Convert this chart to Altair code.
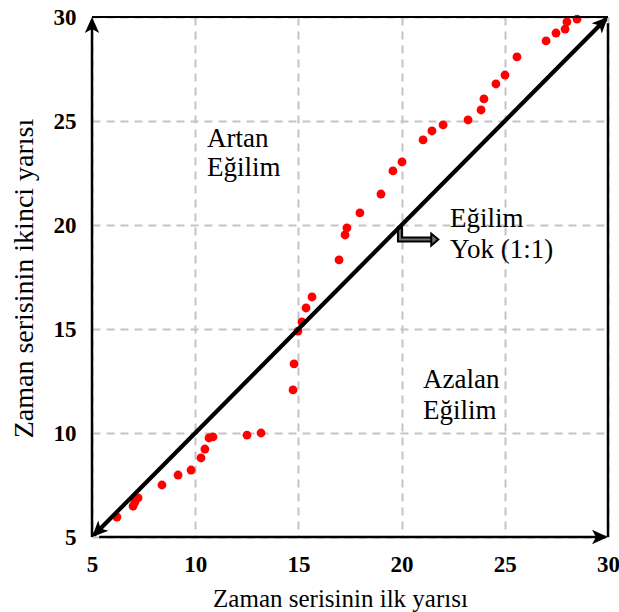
import altair as alt
import pandas as pd

# ---- data ----
x_first = [6.21, 6.99, 7.08, 7.23, 8.39, 9.17, 9.80, 10.28, 10.47, 10.67, 10.86, 12.51, 13.19,
           14.74, 14.79, 14.98, 15.17, 15.37, 15.66, 16.97, 17.26, 17.35, 17.98, 19.00, 19.58,
           20.02, 21.04, 21.47, 22.01, 23.22, 23.85, 23.99, 24.57, 25.01, 25.59, 27.00, 27.48,
           27.92, 28.01, 28.50]
y_second = [5.96, 6.49, 6.68, 6.88, 7.50, 7.98, 8.22, 8.80, 9.23, 9.76, 9.81, 9.90, 10.00,
            12.07, 13.32, 14.90, 15.34, 16.01, 16.54, 18.32, 19.52, 19.86, 20.58, 21.49, 22.60,
            23.03, 24.09, 24.52, 24.81, 25.05, 25.53, 26.06, 26.78, 27.21, 28.08, 28.85, 29.23,
            29.42, 29.76, 29.90]
tick_values = [5, 10, 15, 20, 25, 30]
ann_text = ["Artan", "Eğilim", "Eğilim", "Yok (1:1)", "Azalan", "Eğilim"]
ann_x = [10.57, 10.57, 22.35, 22.35, 21.04, 21.04]
ann_y = [23.75, 22.36, 19.90, 18.41, 12.16, 10.67]
callout_x = [19.92, 19.92, 21.45]
callout_y = [19.95, 19.30, 19.30]

LO, HI = 5, 30
xs = alt.Scale(domain=[LO, HI], nice=False, zero=False)
ys = alt.Scale(domain=[LO, HI], nice=False, zero=False)
FONT = "Liberation Serif"

pts = pd.DataFrame({"x": x_first, "y": y_second})

xaxis = alt.Axis(values=tick_values, title="Zaman serisinin ilk yarısı", grid=True,
                 domain=False, ticks=False, tickSize=0, labelFont=FONT, labelFontSize=23,
                 labelFontWeight="bold", labelColor="black", labelPadding=34,
                 labelBaseline="alphabetic", labelFlush=False,
                 titleFont=FONT, titleFontSize=25, titleFontWeight="normal", titleColor="black",
                 titleBaseline="alphabetic", titleX=248, titleY=69, titleAlign="center")
yaxis = alt.Axis(values=tick_values, title="Zaman serisinin ikinci yarısı", grid=True,
                 domain=False, ticks=False, tickSize=0, labelFont=FONT, labelFontSize=23,
                 labelFontWeight="bold", labelColor="black", labelPadding=16, labelFlush=False,
                 titleFont=FONT, titleFontSize=28, titleFontWeight="normal", titleColor="black",
                 titleBaseline="alphabetic", titleX=-60, titleY=261, titleAlign="center",
                 titleAngle=270)

dots = alt.Chart(pts).mark_circle(size=78, color="#ff0000", opacity=1).encode(
    x=alt.X("x:Q", scale=xs, axis=xaxis),
    y=alt.Y("y:Q", scale=ys, axis=yaxis),
)

# frame / axis lines
frame = pd.DataFrame({
    "x": [LO, LO + 0.35, LO, HI, LO + 0.1],
    "x2": [LO, HI - 0.1, HI, HI, HI - 0.1],
    "y": [LO, LO, HI, LO, LO + 0.1],
    "y2": [HI - 0.2, LO, HI, HI - 0.3, HI - 0.1],
    "w": [2.5, 2.5, 2, 2.5, 4.2],
})
frame_lines = alt.Chart(frame).mark_rule(color="black", strokeCap="butt").encode(
    x=alt.X("x:Q", scale=xs), x2="x2", y=alt.Y("y:Q", scale=ys), y2="y2",
    strokeWidth=alt.StrokeWidth("w:Q", scale=None),
)

ARROW = "M0,0 L0.45,1 L0,0.75 L-0.45,1 Z"
heads = pd.DataFrame({
    "x": [LO, HI, HI, LO],
    "y": [HI, LO, HI, LO],
    "a": [0, 90, 45, 225],
})
arrow_heads = alt.Chart(heads).mark_point(shape=ARROW, size=1024, filled=True, color="black",
                                          opacity=1).encode(
    x=alt.X("x:Q", scale=xs), y=alt.Y("y:Q", scale=ys),
    angle=alt.Angle("a:Q", scale=None),
)

callout = pd.DataFrame({"x": callout_x, "y": callout_y, "o": [0, 1, 2]})
callout_outer = alt.Chart(callout).mark_line(color="black", strokeWidth=6, strokeJoin="miter",
                                             strokeCap="butt").encode(
    x=alt.X("x:Q", scale=xs), y=alt.Y("y:Q", scale=ys), order="o:Q")
callout_inner = alt.Chart(callout).mark_line(color="#707070", strokeWidth=2, strokeJoin="miter",
                                             strokeCap="butt").encode(
    x=alt.X("x:Q", scale=xs), y=alt.Y("y:Q", scale=ys), order="o:Q")
ch = pd.DataFrame({"x": [callout_x[-1] + 0.33], "y": [callout_y[-1]], "a": [90]})
callout_head = alt.Chart(ch).mark_point(shape="M0,0 L0.85,1 L-0.85,1 Z", size=200, filled=True,
                                        fill="#707070", stroke="black", strokeWidth=2,
                                        opacity=1).encode(
    x=alt.X("x:Q", scale=xs), y=alt.Y("y:Q", scale=ys),
    angle=alt.Angle("a:Q", scale=None))

ann = pd.DataFrame({"t": ann_text, "x": ann_x, "y": ann_y})
labels = alt.Chart(ann).mark_text(font=FONT, fontSize=27, align="left", baseline="alphabetic",
                                  color="black").encode(
    x=alt.X("x:Q", scale=xs), y=alt.Y("y:Q", scale=ys), text="t:N")

chart = alt.layer(dots, callout_outer, callout_inner, callout_head, frame_lines, arrow_heads,
                  labels).properties(
    width=516, height=520,
    padding={"left": 92, "top": 17, "right": 11, "bottom": 75},
    autosize=alt.AutoSizeParams(type="none"),
    background="white",
).configure_view(stroke=None).configure_axis(
    gridColor="#c4c4c4", gridDash=[8, 6], gridWidth=2, gridOpacity=1,
)

chart.save("out.html", embed_options={"renderer": "svg", "actions": False})
